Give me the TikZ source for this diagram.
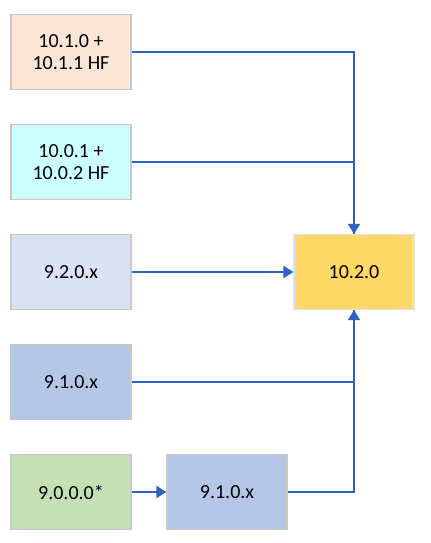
\documentclass[tikz,border=0pt]{standalone}
\usepackage{fontspec}
\setmainfont{Carlito}
\usetikzlibrary{arrows.meta}
\definecolor{peach}{HTML}{FBE5D6}
\definecolor{cyanl}{HTML}{CCFFFF}
\definecolor{bluel}{HTML}{DAE3F3}
\definecolor{bluem}{HTML}{B4C7E7}
\definecolor{greenl}{HTML}{C5E0B4}
\definecolor{gold}{HTML}{FFD966}
\definecolor{edgegray}{HTML}{C8C8C8}
\definecolor{linkblue}{HTML}{3060C2}
\tikzset{
  box/.style={draw=edgegray, line width=0.9pt, minimum width=90pt, minimum height=56.25pt,
    inner sep=0pt, align=center, font=\fontsize{15pt}{16.5pt}\selectfont, text=black},
  link/.style={draw=linkblue, line width=1.4pt},
  arr/.style={link, -{Triangle[width=9pt,length=7.5pt]}}
}
\begin{document}
\begin{tikzpicture}[x=0.75pt,y=-0.75pt]
\useasboundingbox (0,0) rectangle (431,543);
\node[box, fill=peach] (b1) at (71,52) {10.1.0 +\\10.1.1 HF};
\node[box, fill=cyanl] (b2) at (71,162) {10.0.1 +\\10.0.2 HF};
\node[box, fill=bluel] (b3) at (71,272) {9.2.0.x};
\node[box, fill=bluem] (b4) at (71,382) {9.1.0.x};
\node[box, fill=greenl] (b5) at (71,492) {9.0.0.0*};
\node[box, fill=bluem] (b6) at (227,492) {9.1.0.x};
\node[box, fill=gold, draw=bluel] (t) at (354,272) {10.2.0};
\draw[link] (b2.east) -| (t.north);
\draw[arr] (b1.east) -| (t.north);
\draw[arr] (b3.east) -- (t.west);
\draw[link] (b6.east) -| (t.south);
\draw[arr] (b4.east) -| (t.south);
\draw[arr] (b5.east) -- (b6.west);
\end{tikzpicture}
\end{document}
